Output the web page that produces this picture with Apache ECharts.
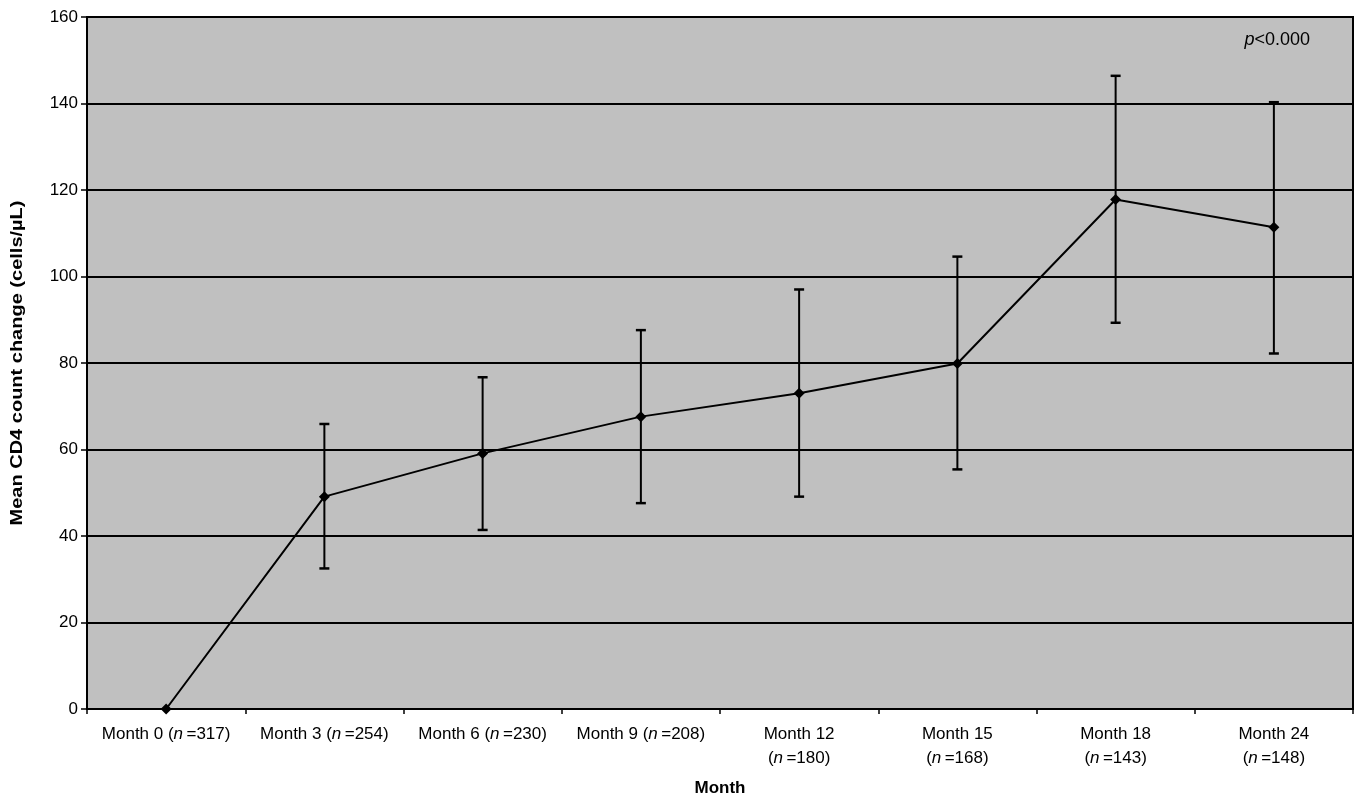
<!DOCTYPE html>
<html>
<head>
<meta charset="utf-8">
<script src="https://cdn.jsdelivr.net/npm/echarts@6/dist/echarts.min.js"></script>
<style>html,body{margin:0;padding:0;background:#fff;}#c{width:1362px;height:802px;}</style>
</head>
<body>
<div id="c"></div>
<script>
const months = ['Month 0', 'Month 3', 'Month 6', 'Month 9', 'Month 12', 'Month 15', 'Month 18', 'Month 24'];
const nValues = [317, 254, 230, 208, 180, 168, 143, 148];
const twoLine = [false, false, false, false, true, true, true, true];
const meanChange = [0, 49.1, 59.1, 67.6, 73.0, 79.9, 117.8, 111.4];
const errLow = [null, 32.5, 41.4, 47.6, 49.1, 55.4, 89.3, 82.2];
const errHigh = [null, 65.9, 76.7, 87.6, 97.0, 104.6, 146.4, 140.3];
const yTicks = [0, 20, 40, 60, 80, 100, 120, 140, 160];

const categories = months.map((m, i) => m + '|' + nValues[i] + '|' + (twoLine[i] ? 1 : 0));
const errData = errLow.map((lo, i) => lo == null ? null : [i, lo, errHigh[i]]).filter(d => d);

const FONT = '"Liberation Sans", Arial, sans-serif';
const chart = echarts.init(document.getElementById('c'));
chart.setOption({
  animation: false,
  backgroundColor: '#ffffff',
  grid: { left: 87, right: 9, top: 17, bottom: 93, show: true, backgroundColor: '#c0c0c0', borderColor: '#000', borderWidth: 2 },
  xAxis: {
    type: 'category',
    data: categories,
    boundaryGap: true,
    name: 'Month',
    nameLocation: 'middle',
    nameGap: 71,
    nameTextStyle: { fontFamily: FONT, fontWeight: 'bold', fontSize: 17, color: '#000' },
    axisLine: { lineStyle: { color: '#000', width: 2 } },
    axisTick: { show: true, length: 5, lineStyle: { color: '#000', width: 1.5 }, alignWithLabel: false },
    axisLabel: {
      interval: 0,
      margin: 13,
      formatter: function (v) {
        const p = v.split('|');
        if (p[2] === '1') return '{a|' + p[0] + '}\n{a|(}{i|n}{a|\u2009=' + p[1] + ')}';
        return '{a|' + p[0] + ' (}{i|n}{a|\u2009=' + p[1] + ')}';
      },
      rich: {
        a: { fontFamily: FONT, fontSize: 17, color: '#000', lineHeight: 24 },
        i: { fontFamily: FONT, fontSize: 17, color: '#000', fontStyle: 'italic', lineHeight: 24 }
      }
    },
    splitLine: { show: false }
  },
  yAxis: {
    type: 'value',
    min: 0, max: 160, interval: 20,
    axisLine: { show: true, lineStyle: { color: '#000', width: 2 } },
    axisTick: { show: true, length: 6, lineStyle: { color: '#000', width: 1.5 } },
    axisLabel: { fontFamily: FONT, fontSize: 17, color: '#000', margin: 9,
      formatter: function (v) { return yTicks.indexOf(v) >= 0 ? String(v) : ''; } },
    splitLine: { show: true, lineStyle: { color: '#000', width: 2 } }
  },
  graphic: [{
    type: 'text', right: 52, top: 31,
    style: {
      text: '{i|p}{a|<0.000}',
      rich: {
        i: { fontFamily: FONT, fontSize: 18, fontStyle: 'italic', fill: '#000' },
        a: { fontFamily: FONT, fontSize: 18, fill: '#000' }
      }
    }
  }, {
    type: 'text',
    x: 18, y: 363,
    rotation: Math.PI / 2,
    scaleX: 1.25,
    style: {
      text: 'Mean CD4 count change (cells/\u00B5L)',
      fontFamily: FONT, fontWeight: 'bold', fontSize: 16, fill: '#000',
      align: 'center', verticalAlign: 'middle'
    }
  }],
  series: [
    {
      type: 'custom',
      data: errData,
      z: 3,
      renderItem: function (params, api) {
        const x = api.value(0);
        const lo = api.coord([x, api.value(1)]);
        const hi = api.coord([x, api.value(2)]);
        const cw = 5;
        const st = { stroke: '#000', lineWidth: 2 };
        return {
          type: 'group',
          children: [
            { type: 'line', shape: { x1: lo[0], y1: lo[1], x2: hi[0], y2: hi[1] }, style: st },
            { type: 'line', shape: { x1: lo[0] - cw, y1: lo[1], x2: lo[0] + cw, y2: lo[1] }, style: { stroke: '#000', lineWidth: 2.5 } },
            { type: 'line', shape: { x1: hi[0] - cw, y1: hi[1], x2: hi[0] + cw, y2: hi[1] }, style: { stroke: '#000', lineWidth: 2.5 } }
          ]
        };
      }
    },
    {
      type: 'line',
      data: meanChange,
      z: 4,
      symbol: 'diamond',
      symbolSize: 11,
      itemStyle: { color: '#000' },
      lineStyle: { color: '#000', width: 2 }
    }
  ]
});
</script>
</body>
</html>
